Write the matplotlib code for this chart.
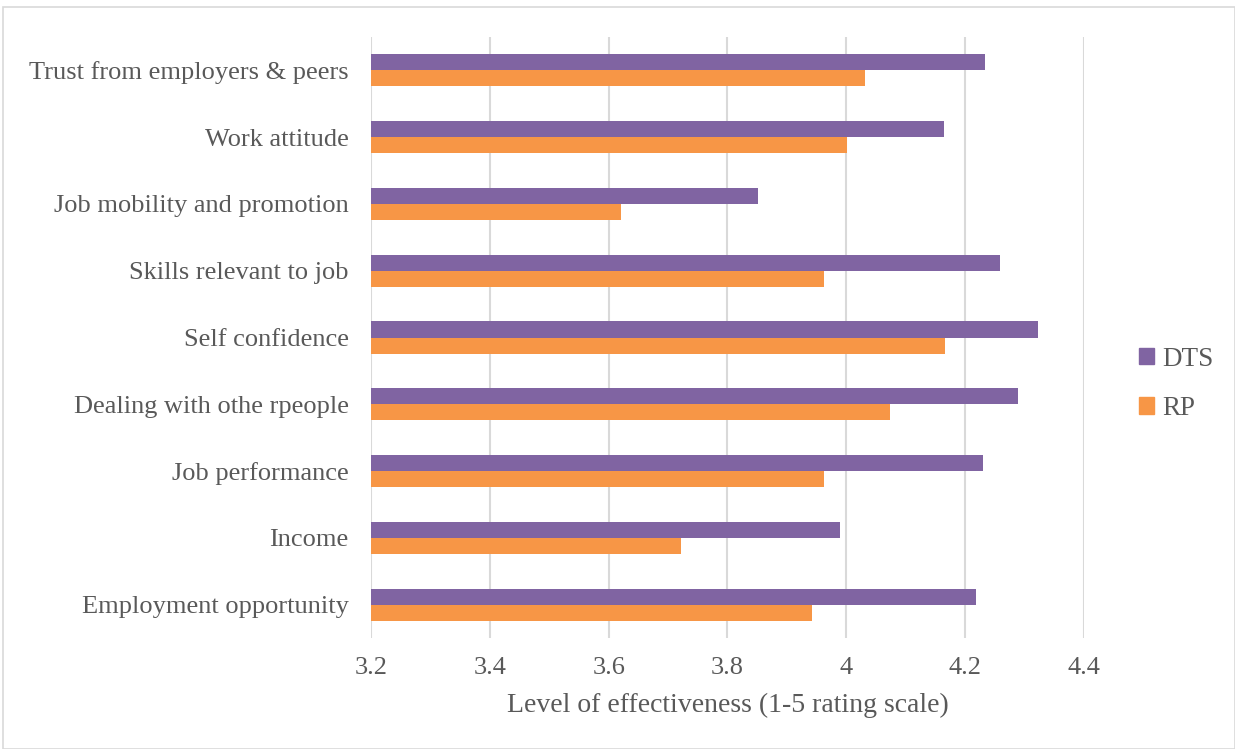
import matplotlib
matplotlib.use("Agg")
import matplotlib.pyplot as plt
from matplotlib.patches import Patch, Rectangle
import numpy as np

# categories listed top to bottom as shown in the chart
categories = [
    "Trust from employers & peers",
    "Work attitude",
    "Job mobility and promotion",
    "Skills relevant to job",
    "Self confidence",
    "Dealing with othe rpeople",
    "Job performance",
    "Income",
    "Employment opportunity",
]
dts = [4.234, 4.164, 3.851, 4.259, 4.323, 4.289, 4.230, 3.990, 4.219]
rp = [4.032, 4.001, 3.621, 3.962, 4.166, 4.074, 3.962, 3.722, 3.942]
xticks = [3.2, 3.4, 3.6, 3.8, 4.0, 4.2, 4.4]
xtick_labels = ["3.2", "3.4", "3.6", "3.8", "4", "4.2", "4.4"]

PURPLE = "#8064A2"
ORANGE = "#F79646"
TEXT = "#595959"
GRID = "#D9D9D9"

plt.rcParams["font.family"] = ["Liberation Serif", "DejaVu Serif"]

fig = plt.figure(figsize=(12.35, 7.49), dpi=100)
fig.patches.append(Rectangle((3 / 1235, 0.0), 1 - 3 / 1235, 1 - 7 / 749,
                             transform=fig.transFigure, fill=False,
                             edgecolor=GRID, linewidth=1.2))

ax = fig.add_axes([371 / 1235, 1 - 638 / 749, 713 / 1235, 601 / 749])

n = len(categories)
pos = np.arange(n)[::-1]
h = 0.24
ax.barh(pos + h / 2, [v - 3.2 for v in dts], left=3.2, height=h, color=PURPLE, label="DTS", zorder=3)
ax.barh(pos - h / 2, [v - 3.2 for v in rp], left=3.2, height=h, color=ORANGE, label="RP", zorder=3)

ax.set_xlim(3.2, 4.4)
ax.set_ylim(-0.5, n - 0.5)
ax.set_xticks(xticks)
ax.set_xticklabels(xtick_labels)
ax.set_yticks(pos)
ax.set_yticklabels(categories)
ax.tick_params(axis="both", length=0, labelsize=19, labelcolor=TEXT)
ax.tick_params(axis="x", pad=14)
ax.tick_params(axis="y", pad=16)
ax.xaxis.grid(True, color=GRID, linewidth=1.5, zorder=0)
ax.set_axisbelow(True)
for s in ax.spines.values():
    s.set_visible(False)
ax.set_xlabel("Level of effectiveness (1-5 rating scale)", fontsize=20, color=TEXT, labelpad=10)

handles = [Patch(color=PURPLE, label="DTS"), Patch(color=ORANGE, label="RP")]
fig.legend(handles=handles, loc="center left", bbox_to_anchor=(1115 / 1235, 1 - 384 / 749),
           frameon=False, fontsize=19.5, labelcolor=TEXT, handlelength=0.55, handleheight=0.55,
           handletextpad=0.3, labelspacing=0.9)

fig.savefig("out.png", dpi=100)
